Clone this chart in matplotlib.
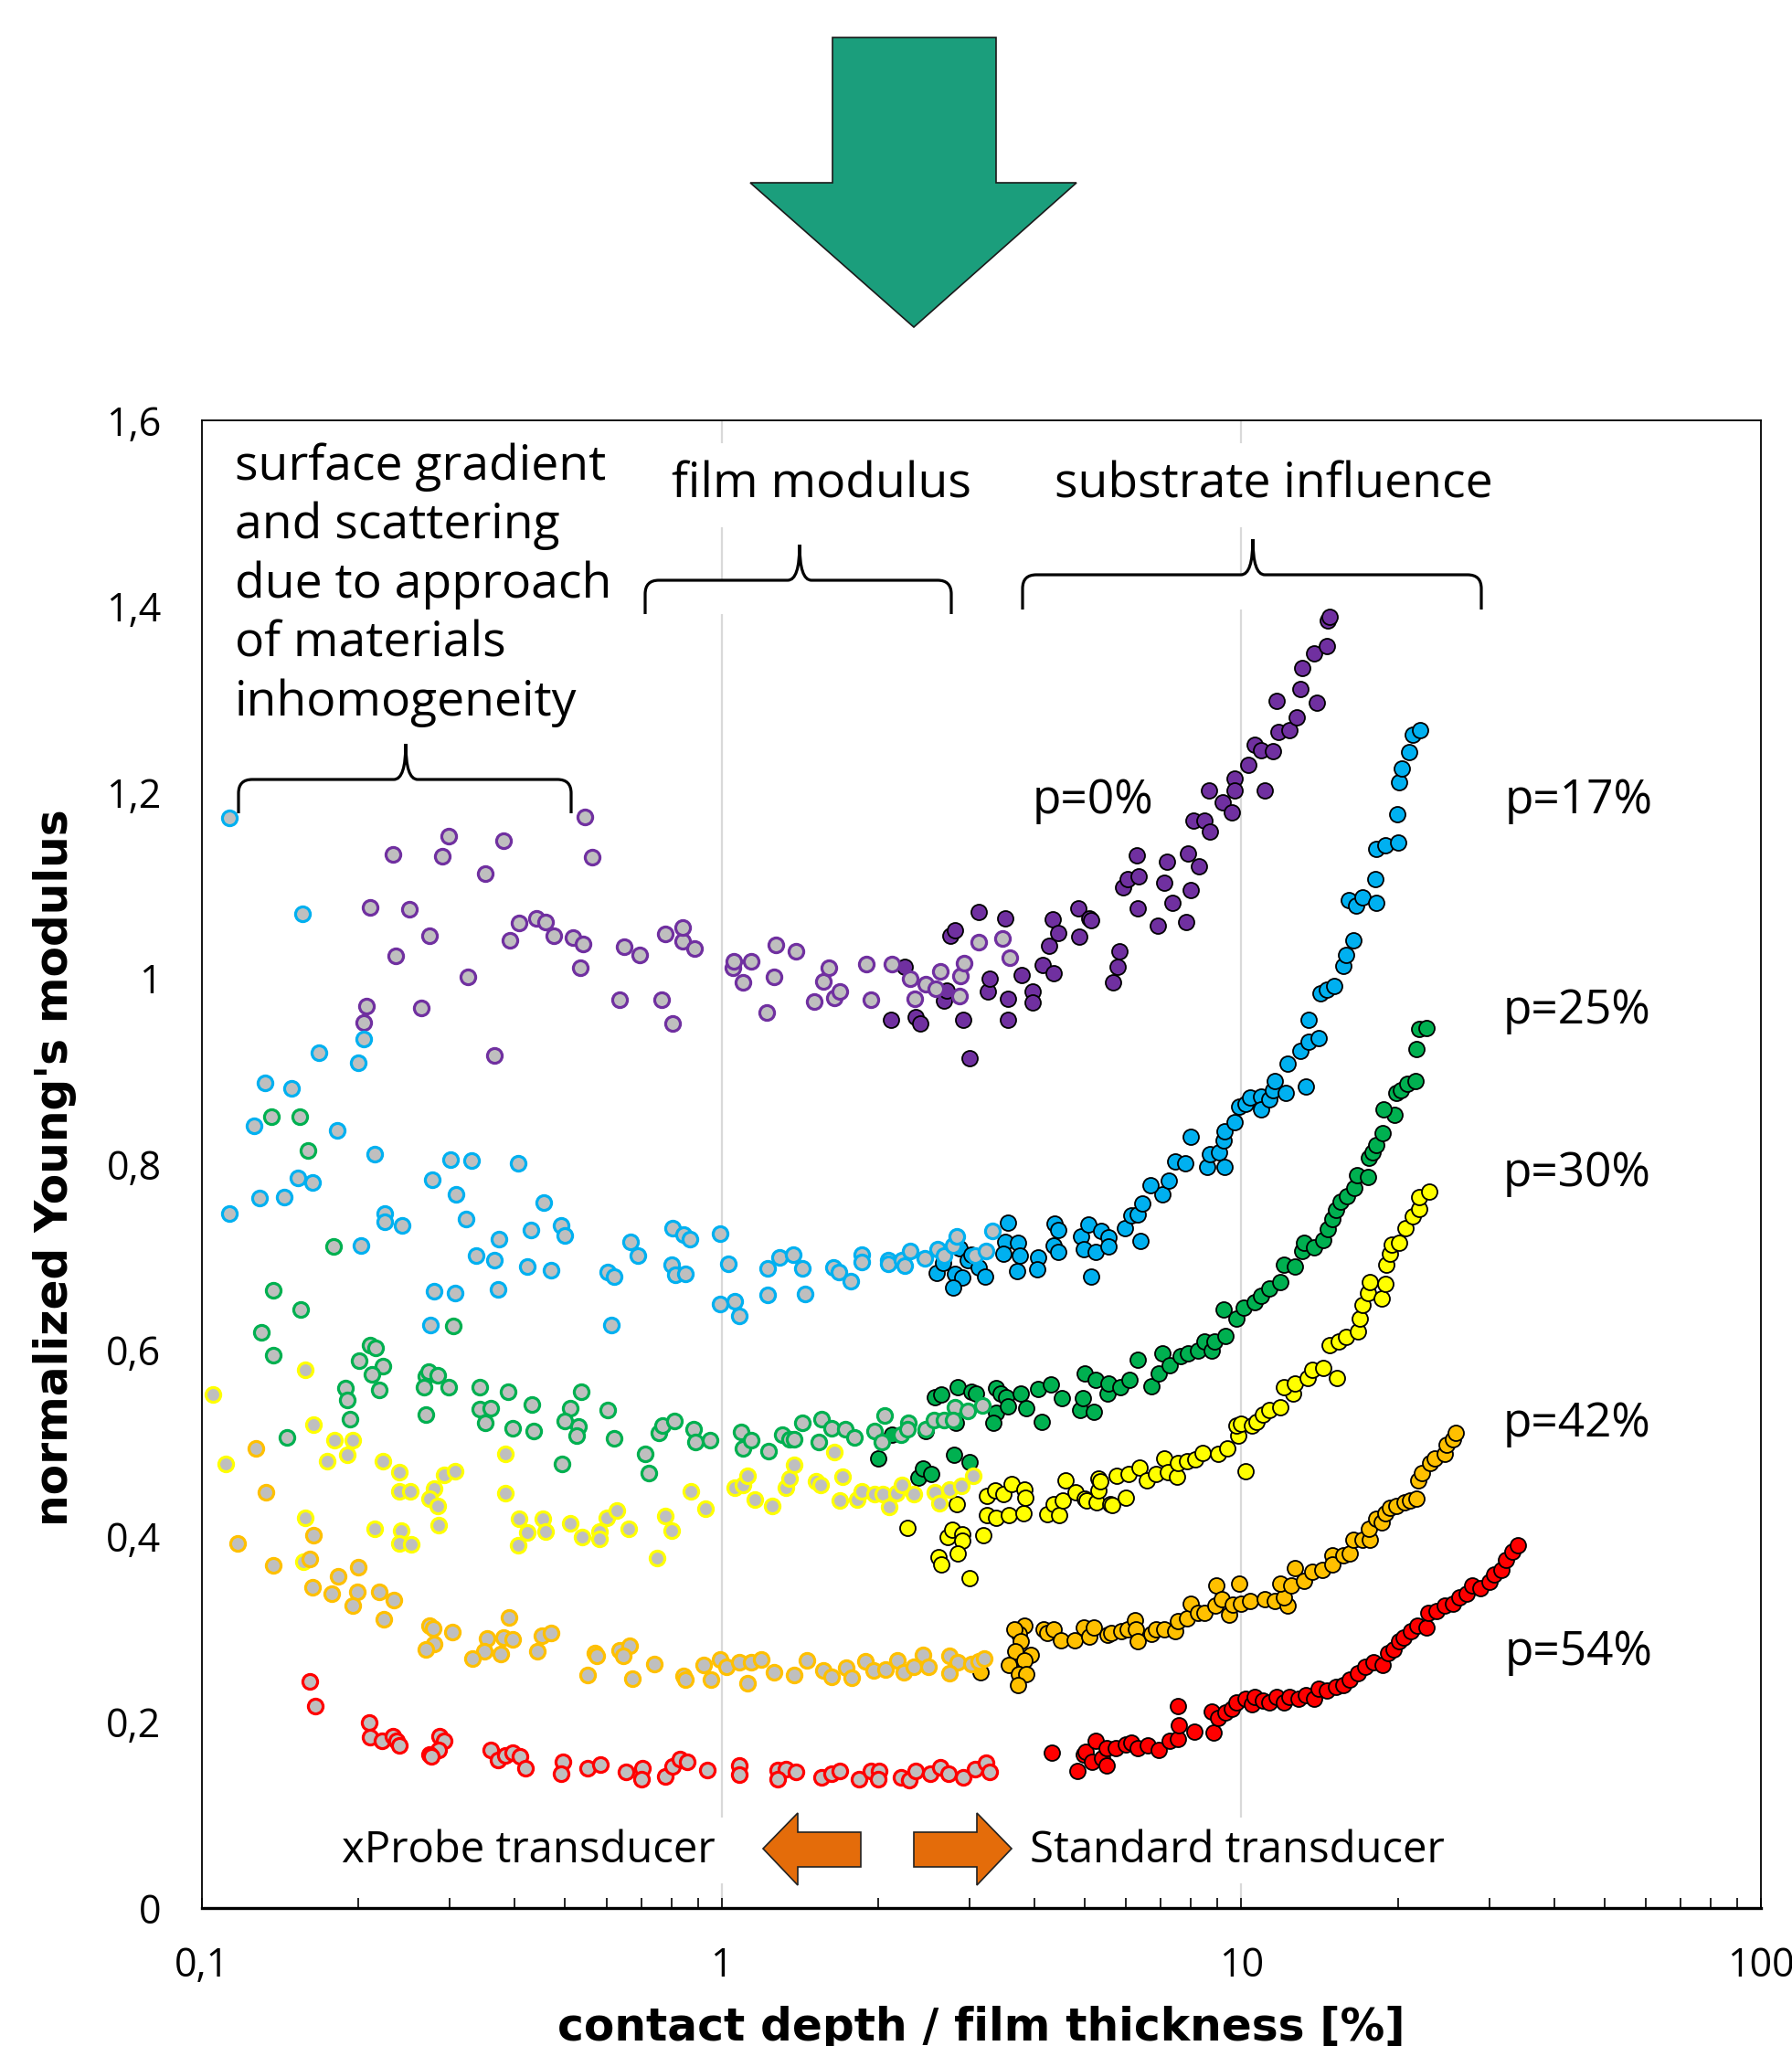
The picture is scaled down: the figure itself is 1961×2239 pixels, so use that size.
import numpy as np
import matplotlib
matplotlib.use('Agg')
import matplotlib.pyplot as plt
from matplotlib.patches import Polygon, PathPatch, Rectangle
from matplotlib.path import Path
from matplotlib.ticker import FixedLocator, FixedFormatter, LogLocator, NullFormatter

plt.rcParams['font.family'] = ['Open Sans', 'DejaVu Sans']

#-------------------------------------------------------------------------------
# data: (contact depth / film thickness [%], normalized Young's modulus)
# xProbe transducer = hollow grey markers, Standard transducer = filled markers
p0_xprobe = [(0.205,0.952),(0.207,0.970),(0.211,1.076),(0.233,1.133),(0.236,1.024),(0.251,1.074),
    (0.264,0.968),(0.274,1.046),(0.290,1.131),(0.299,1.153),(0.325,1.001),(0.351,1.113),(0.366,0.917),
    (0.380,1.148),(0.391,1.041),(0.408,1.059),(0.440,1.064),(0.459,1.060),(0.475,1.046),(0.517,1.044),
    (0.535,1.011),(0.541,1.037),(0.546,1.173),(0.564,1.130),(0.635,0.977),(0.649,1.034),(0.695,1.025),
    (0.767,0.977),(0.778,1.048),(0.805,0.951),(0.84,1.040),(0.843,1.055),(0.887,1.032),(1.05,1.011),
    (1.055,1.018),(1.10,0.996),(1.14,1.018),(1.22,0.963),(1.26,1.001),(1.27,1.036),(1.39,1.029),
    (1.51,0.975),(1.57,0.997),(1.61,1.011),(1.65,0.979),(1.69,0.986),(1.90,1.015),(1.94,0.977),
    (2.13,1.015),(2.31,1.000),(2.35,0.978),(2.47,0.994),(2.58,0.989),(2.64,1.007),(2.87,0.981),
    (2.88,1.002),(2.93,1.016),(3.12,1.039),(3.47,1.043),(3.59,1.022)]
p0_std = [(2.12,0.955),(2.25,1.012),(2.36,0.958),(2.41,0.951),(2.68,0.976),(2.71,0.987),(2.75,1.046),
    (2.81,1.052),(2.92,0.955),(3.00,0.914),(3.13,1.071),(3.25,0.986),(3.28,1.000),(3.51,1.064),
    (3.55,0.978),(3.56,0.955),(3.78,1.003),(3.97,0.986),(3.97,0.974),(4.15,1.014),(4.26,1.035),
    (4.34,1.063),(4.36,1.005),(4.45,1.049),(4.86,1.075),(4.87,1.045),(5.09,1.064),(5.15,1.062),
    (5.66,0.996),(5.78,1.012),(5.83,1.029),(5.93,1.098),(6.04,1.107),(6.29,1.132),(6.31,1.075),
    (6.34,1.110),(6.9,1.057),(7.1,1.103),(7.18,1.125),(7.36,1.081),(7.84,1.060),(7.9,1.134),
    (8.0,1.095),(8.1,1.170),(8.3,1.120),(8.5,1.170),(8.67,1.202),(8.7,1.158),(9.2,1.189),(9.6,1.178),
    (9.7,1.215),(9.7,1.202),(10.3,1.229),(10.6,1.251),(10.9,1.245),(11.1,1.202),(11.5,1.244),
    (11.7,1.298),(11.8,1.265),(12.4,1.267),(12.8,1.281),(13.0,1.311),(13.1,1.334),(13.8,1.349),
    (14.0,1.296),(14.6,1.357),(14.7,1.385),(14.8,1.389)]

p17_xprobe = [(0.113,1.172),(0.156,1.069),(0.205,0.935),(0.168,0.920),(0.200,0.909),(0.132,0.887),
    (0.149,0.882),(0.126,0.841),(0.182,0.836),(0.215,0.811),(0.301,0.805),(0.330,0.804),(0.406,0.801),
    (0.277,0.783),(0.308,0.768),(0.153,0.785),(0.163,0.780),(0.129,0.764),(0.144,0.765),(0.113,0.747),
    (0.454,0.759),(0.225,0.747),(0.225,0.738),(0.243,0.734),(0.322,0.741),(0.373,0.719),(0.430,0.729),
    (0.492,0.734),(0.499,0.723),(0.202,0.713),(0.337,0.702),(0.366,0.697),(0.423,0.690),(0.469,0.686),
    (0.668,0.716),(0.690,0.702),(0.603,0.684),(0.62,0.679),(0.805,0.731),(0.80,0.692),(0.280,0.663),
    (0.307,0.661),(0.371,0.665),(0.275,0.627),(0.614,0.627),(0.845,0.724),(0.869,0.719),(0.995,0.725),
    (0.815,0.681),(0.85,0.682),(1.03,0.693),(0.995,0.650),(1.06,0.653),(1.08,0.637),(1.225,0.688),
    (1.29,0.700),(1.375,0.703),(1.43,0.688),(1.225,0.659),(1.45,0.660),(1.64,0.689),(1.68,0.684),
    (1.77,0.674),(1.86,0.703),(1.86,0.695),(2.09,0.697),(2.09,0.693),(2.22,0.697),(2.25,0.691),
    (2.31,0.707),(2.46,0.699),(2.6,0.709),(2.68,0.702),(2.79,0.713),(2.84,0.722),(3.07,0.702),
    (3.23,0.707),(3.32,0.728)]
p17_std = [(2.59,0.683),(2.67,0.694),(2.81,0.682),(2.90,0.678),(2.79,0.667),(2.87,0.710),(2.97,0.697),
    (3.13,0.689),(3.21,0.679),(3.02,0.703),(3.55,0.737),(3.51,0.716),(3.49,0.704),(3.72,0.715),
    (3.75,0.702),(3.70,0.685),(4.07,0.700),(4.05,0.687),(4.37,0.736),(4.44,0.729),(4.36,0.713),
    (4.44,0.706),(4.92,0.722),(5.07,0.735),(4.98,0.709),(5.25,0.706),(5.37,0.728),(5.56,0.721),
    (5.56,0.712),(5.14,0.679),(5.97,0.731),(6.15,0.745),(6.41,0.717),(6.32,0.746),(6.46,0.758),
    (7.05,0.768),(6.68,0.777),(7.25,0.782),(7.45,0.803),(7.8,0.801),(8.0,0.829),(8.6,0.797),
    (8.7,0.811),(9.06,0.813),(9.3,0.797),(9.25,0.826),(9.3,0.835),(9.7,0.845),(9.9,0.862),
    (10.2,0.865),(10.4,0.872),(10.9,0.873),(10.9,0.859),(11.3,0.870),(11.5,0.880),(11.6,0.889),
    (12.2,0.877),(12.3,0.908),(13.3,0.884),(13.0,0.922),(13.5,0.932),(14.1,0.936),(13.5,0.955),
    (14.2,0.984),(14.6,0.988),(15.1,0.992),(15.7,1.013),(15.9,1.025),(16.4,1.041),(16.1,1.084),
    (16.6,1.078),(17.1,1.087),(18.2,1.081),(18.1,1.107),(18.2,1.139),(18.9,1.143),(20.0,1.146),
    (19.96,1.176),(20.1,1.211),(20.4,1.226),(21.0,1.243),(21.4,1.262),(22.1,1.267)]

p25_xprobe = [(0.136,0.851),(0.154,0.851),(0.160,0.815),(0.179,0.712),(0.137,0.664),(0.155,0.644),
    (0.130,0.619),(0.137,0.595),(0.211,0.605),(0.216,0.602),(0.201,0.589),(0.223,0.583),(0.212,0.574),
    (0.219,0.557),(0.189,0.559),(0.19,0.546),(0.193,0.526),(0.146,0.506),(0.304,0.626),(0.270,0.572),
    (0.273,0.577),(0.284,0.573),(0.268,0.560),(0.298,0.560),(0.270,0.531),(0.343,0.560),(0.343,0.537),
    (0.360,0.538),(0.351,0.522),(0.389,0.555),(0.396,0.516),(0.431,0.542),(0.435,0.513),(0.537,0.555),
    (0.512,0.538),(0.500,0.524),(0.531,0.518),(0.526,0.508),(0.493,0.478),(0.604,0.536),(0.622,0.505),
    (0.714,0.488),(0.725,0.468),(0.756,0.511),(0.77,0.519),(0.811,0.524),(0.885,0.515),(0.89,0.501),
    (0.95,0.503),(1.09,0.512),(1.10,0.494),(1.14,0.503),(1.23,0.491),(1.31,0.509),(1.35,0.504),
    (1.38,0.504),(1.43,0.522),(1.56,0.526),(1.63,0.516),(1.54,0.501),(1.73,0.515),(1.80,0.506),
    (1.97,0.513),(2.06,0.530),(2.03,0.501),(2.21,0.509),(2.29,0.522),(2.28,0.515),(2.47,0.515),
    (2.56,0.525),(2.68,0.525),(2.81,0.539),(2.79,0.525),(2.97,0.535),(3.18,0.541)]
p25_std = [(2.0,0.484),(2.13,0.509),(2.39,0.463),(2.44,0.473),(2.53,0.467),(2.57,0.549),(2.65,0.552),
    (2.47,0.513),(2.80,0.487),(3.0,0.480),(2.85,0.560),(3.03,0.555),(3.09,0.553),(2.82,0.522),
    (3.37,0.559),(3.44,0.553),(3.38,0.533),(3.33,0.522),(3.53,0.549),(3.56,0.540),(3.77,0.553),
    (3.86,0.538),(4.13,0.523),(4.06,0.558),(4.30,0.563),(4.52,0.548),(4.9,0.536),(4.95,0.548),
    (5.0,0.575),(5.21,0.534),(5.24,0.568),(5.53,0.553),(5.55,0.564),(5.86,0.560),(6.09,0.568),
    (6.31,0.590),(6.72,0.561),(6.95,0.575),(7.05,0.597),(7.28,0.584),(7.63,0.594),(7.89,0.597),
    (8.24,0.600),(8.5,0.609),(8.76,0.600),(8.89,0.609),(9.25,0.644),(9.32,0.615),(9.77,0.634),
    (10.1,0.646),(10.6,0.652),(10.9,0.658),(11.3,0.666),(11.9,0.673),(12.1,0.692),(12.7,0.690),
    (13.1,0.707),(13.2,0.715),(13.8,0.711),(14.4,0.718),(14.7,0.730),(15.0,0.741),(15.2,0.751),
    (15.5,0.760),(16.0,0.766),(16.5,0.774),(16.7,0.788),(17.5,0.786),(17.6,0.807),(17.9,0.813),
    (18.2,0.821),(18.7,0.833),(19.7,0.853),(18.8,0.859),(19.9,0.877),(20.3,0.880),(20.9,0.886),
    (21.6,0.889),(21.7,0.924),(22.0,0.945),(22.7,0.946)]

p30_xprobe = [(0.158,0.579),(0.105,0.552),(0.111,0.478),(0.164,0.520),(0.180,0.503),(0.195,0.503),
    (0.190,0.487),(0.174,0.481),(0.223,0.481),(0.240,0.469),(0.240,0.448),(0.252,0.448),(0.280,0.451),
    (0.274,0.440),(0.284,0.432),(0.293,0.466),(0.307,0.470),(0.285,0.412),(0.158,0.420),(0.215,0.408),
    (0.242,0.406),(0.24,0.392),(0.253,0.391),(0.157,0.372),(0.384,0.488),(0.384,0.446),(0.408,0.419),
    (0.423,0.404),(0.406,0.390),(0.452,0.419),(0.459,0.405),(0.512,0.414),(0.540,0.399),(0.582,0.405),
    (0.583,0.397),(0.602,0.420),(0.628,0.428),(0.663,0.408),(0.752,0.376),(0.778,0.422),(0.80,0.406),
    (0.873,0.448),(0.93,0.429),(1.06,0.452),(1.10,0.455),(1.12,0.465),(1.16,0.439),(1.25,0.432),
    (1.33,0.452),(1.35,0.462),(1.38,0.477),(1.52,0.459),(1.55,0.455),(1.65,0.490),(1.71,0.464),
    (1.69,0.438),(1.82,0.439),(1.86,0.448),(1.97,0.445),(2.04,0.445),(2.10,0.431),(2.17,0.446),
    (2.22,0.455),(2.34,0.445),(2.57,0.447),(2.63,0.435),(2.74,0.450),(2.89,0.454),(3.05,0.465)]
p30_std = [(2.28,0.409),(2.83,0.434),(2.72,0.399),(2.78,0.407),(2.90,0.402),(2.91,0.395),(2.61,0.377),
    (2.65,0.370),(2.85,0.381),(3.0,0.355),(3.19,0.401),(3.24,0.443),(3.36,0.449),(3.49,0.445),
    (3.62,0.456),(3.24,0.423),(3.37,0.420),(3.57,0.423),(3.81,0.425),(3.83,0.450),(3.84,0.441),
    (4.23,0.424),(4.36,0.434),(4.46,0.423),(4.54,0.438),(4.59,0.460),(4.79,0.447),(5.0,0.440),
    (5.03,0.438),(5.27,0.436),(5.3,0.449),(5.32,0.462),(5.36,0.459),(5.59,0.434),(5.64,0.433),
    (5.75,0.465),(6.0,0.441),(6.06,0.467),(6.36,0.474),(6.58,0.460),(6.84,0.467),(7.11,0.484),
    (7.22,0.469),(7.53,0.464),(7.56,0.479),(7.86,0.481),(8.17,0.483),(8.43,0.489),(9.04,0.488),
    (9.4,0.494),(9.85,0.508),(9.77,0.519),(10.0,0.521),(10.2,0.470),(10.5,0.519),(10.7,0.523),
    (11.0,0.531),(11.3,0.536),(11.9,0.539),(12.6,0.553),(12.1,0.560),(12.7,0.564),(13.4,0.570),
    (13.7,0.579),(14.4,0.581),(15.3,0.570),(14.8,0.605),(15.4,0.609),(15.9,0.614),(16.8,0.620),
    (16.9,0.634),(17.1,0.649),(17.5,0.661),(17.7,0.673),(18.6,0.656),(18.9,0.671),(19.0,0.692),
    (19.3,0.704),(19.5,0.714),(20.1,0.715),(20.7,0.731),(21.4,0.744),(22.0,0.752),(22.0,0.765),
    (23.0,0.771)]

p42_xprobe = [(0.127,0.494),(0.133,0.447),(0.117,0.392),(0.137,0.369),(0.161,0.375),(0.164,0.401),
    (0.183,0.357),(0.200,0.367),(0.163,0.345),(0.178,0.338),(0.199,0.340),(0.195,0.325),(0.219,0.340),
    (0.234,0.331),(0.224,0.311),(0.274,0.304),(0.278,0.301),(0.280,0.284),(0.27,0.278),(0.303,0.297),
    (0.354,0.290),(0.35,0.276),(0.331,0.268),(0.390,0.313),(0.381,0.291),(0.396,0.289),(0.376,0.273),
    (0.451,0.293),(0.469,0.296),(0.442,0.276),(0.570,0.274),(0.575,0.271),(0.553,0.251),(0.635,0.277),
    (0.664,0.282),(0.647,0.271),(0.673,0.247),(0.741,0.262),(0.845,0.250),(0.85,0.246),(0.922,0.261),
    (0.955,0.246),(0.995,0.267),(1.02,0.259),(1.08,0.264),(1.14,0.264),(1.19,0.267),(1.12,0.242),
    (1.26,0.254),(1.38,0.251),(1.46,0.266),(1.57,0.256),(1.63,0.249),(1.74,0.258),(1.78,0.248),
    (1.89,0.265),(1.96,0.256),(2.07,0.257),(2.18,0.266),(2.24,0.254),(2.34,0.259),(2.44,0.272),
    (2.50,0.259),(2.74,0.271),(2.85,0.264),(2.74,0.253),(3.03,0.262),(3.13,0.265),(3.20,0.268)]
p42_std = [(3.15,0.254),(3.83,0.304),(3.74,0.295),(3.66,0.300),(3.77,0.287),(3.93,0.272),(3.67,0.276),
    (3.83,0.266),(3.57,0.261),(3.74,0.252),(3.86,0.252),(3.72,0.240),(4.17,0.300),(4.23,0.296),
    (4.36,0.300),(4.5,0.288),(4.77,0.288),(4.98,0.302),(5.1,0.292),(5.21,0.302),(5.53,0.294),
    (5.63,0.296),(5.88,0.298),(6.04,0.300),(6.24,0.310),(6.26,0.300),(6.32,0.287),(6.72,0.295),
    (6.86,0.300),(7.11,0.300),(7.45,0.298),(7.56,0.309),(7.86,0.312),(7.98,0.327),(8.24,0.317),
    (8.5,0.317),(8.9,0.325),(8.97,0.347),(9.18,0.332),(9.46,0.315),(9.64,0.326),(9.92,0.349),
    (10.0,0.327),(10.4,0.330),(11.1,0.332),(11.6,0.330),(12.3,0.325),(12.1,0.334),(11.9,0.349),
    (12.5,0.347),(12.7,0.366),(13.2,0.352),(13.7,0.362),(14.3,0.364),(15.0,0.379),(15.0,0.370),
    (15.7,0.379),(16.2,0.381),(16.4,0.396),(17.1,0.396),(17.7,0.396),(17.6,0.408),(18.2,0.419),
    (18.6,0.415),(18.9,0.425),(19.3,0.430),(19.9,0.432),(20.6,0.436),(21.1,0.438),(21.7,0.440),
    (21.9,0.460),(22.3,0.468),(23.1,0.479),(23.6,0.484),(24.6,0.488),(24.8,0.498),(25.5,0.504),
    (25.9,0.511)]

p54_xprobe = [(0.161,0.244),(0.165,0.217),(0.210,0.200),(0.211,0.184),(0.222,0.180),(0.233,0.185),
    (0.237,0.180),(0.240,0.175),(0.286,0.185),(0.293,0.180),(0.285,0.170),(0.274,0.165),(0.276,0.163),
    (0.360,0.170),(0.371,0.159),(0.384,0.164),(0.396,0.167),(0.409,0.163),(0.420,0.150),(0.495,0.157),
    (0.492,0.144),(0.553,0.150),(0.585,0.154),(0.654,0.146),(0.703,0.150),(0.70,0.139),(0.780,0.142),
    (0.805,0.152),(0.83,0.160),(0.86,0.157),(0.94,0.148),(1.08,0.153),(1.08,0.143),(1.28,0.148),
    (1.33,0.149),(1.39,0.146),(1.28,0.139),(1.56,0.141),(1.63,0.144),(1.69,0.147),(1.84,0.139),
    (1.94,0.147),(2.01,0.147),(2.0,0.139),(2.21,0.141),(2.30,0.138),(2.36,0.147),(2.52,0.144),
    (2.64,0.151),(2.73,0.144),(2.92,0.141),(3.08,0.149),(3.23,0.156),(3.28,0.146)]
p54_std = [(4.32,0.167),(4.84,0.147),(4.98,0.165),(5.01,0.168),(5.16,0.157),(5.24,0.180),(5.4,0.161),
    (5.5,0.153),(5.51,0.172),(5.73,0.172),(6.0,0.176),(6.15,0.178),(6.32,0.172),(6.62,0.175),
    (6.95,0.170),(7.28,0.180),(7.56,0.182),(7.58,0.197),(7.56,0.217),(8.13,0.190),(8.77,0.211),
    (8.86,0.189),(9.04,0.204),(9.33,0.210),(9.6,0.214),(9.77,0.221),(10.2,0.225),(10.5,0.219),
    (10.6,0.227),(11.0,0.223),(11.3,0.221),(11.7,0.227),(12.1,0.221),(12.4,0.227),(12.9,0.225),
    (13.3,0.229),(13.8,0.225),(14.1,0.236),(14.6,0.234),(15.2,0.238),(15.7,0.240),(16.2,0.246),
    (16.8,0.253),(17.3,0.259),(18.0,0.264),(18.7,0.261),(19.2,0.274),(19.6,0.278),(20.1,0.287),
    (20.5,0.291),(21.2,0.298),(21.8,0.304),(22.7,0.302),(22.9,0.317),(23.8,0.319),(24.6,0.325),
    (25.5,0.327),(26.3,0.334),(27.2,0.338),(27.8,0.347),(28.9,0.344),(30.0,0.351),(30.7,0.359),
    (31.7,0.364),(32.3,0.374),(33.2,0.383),(34.1,0.390)]

series_xprobe = [p0_xprobe, p17_xprobe, p25_xprobe, p30_xprobe, p42_xprobe, p54_xprobe]
series_std = [p0_std, p17_std, p25_std, p30_std, p42_std, p54_std]
colors = ['#7030A0', '#00B0F0', '#00B050', '#FFFF00', '#FFC000', '#FF0000']
p_labels = ['p=0%', 'p=17%', 'p=25%', 'p=30%', 'p=42%', 'p=54%']

x_ticks = [0.1, 1, 10, 100]
x_ticklabels = ['0,1', '1', '10', '100']
y_ticks = [0, 0.2, 0.4, 0.6, 0.8, 1.0, 1.2, 1.4, 1.6]
y_ticklabels = ['0', '0,2', '0,4', '0,6', '0,8', '1', '1,2', '1,4', '1,6']

#-------------------------------------------------------------------------------
W, H = 1961, 2239
def fpt(x, y):
    # pixel position (from top left) -> figure fraction
    return (x / W, 1 - y / H)

fig = plt.figure(figsize=(W / 100, H / 100), dpi=100)
x0, y0 = fpt(221, 2088)
ax = fig.add_axes([x0, y0, (1927 - 221) / W, (2088 - 460) / H])

ax.set_xscale('log')
ax.set_xlim(0.1, 100)
ax.set_ylim(0, 1.6)

ax.axvline(1, color='#D9D9D9', lw=1.6, zorder=0.5)
ax.axvline(10, color='#D9D9D9', lw=1.6, zorder=0.5)

for pts, col in zip(series_std, colors):
    a = np.array(pts)
    ax.scatter(a[:, 0], a[:, 1], s=150, facecolor=col, edgecolor='black', linewidth=1.3, zorder=3)
for pts, col in zip(series_xprobe, colors):
    a = np.array(pts)
    ax.scatter(a[:, 0], a[:, 1], s=135, facecolor='#BFBFBF', edgecolor=col, linewidth=2.3, zorder=4)

ax.xaxis.set_major_locator(FixedLocator(x_ticks))
ax.xaxis.set_major_formatter(FixedFormatter(x_ticklabels))
ax.xaxis.set_minor_locator(LogLocator(base=10, subs=np.arange(2, 10)))
ax.xaxis.set_minor_formatter(NullFormatter())
ax.yaxis.set_major_locator(FixedLocator(y_ticks))
ax.yaxis.set_major_formatter(FixedFormatter(y_ticklabels))
ax.tick_params(axis='x', which='both', direction='in', length=8, width=1.2, pad=30, labelsize=31)
ax.tick_params(axis='y', which='both', length=0, pad=32, labelsize=31)

for side in ['left', 'right', 'top']:
    ax.spines[side].set_linewidth(1.3)
ax.spines['bottom'].set_linewidth(2.4)

ax.set_xlabel('contact depth / film thickness [%]', family='DejaVu Sans', fontweight='bold',
              fontsize=35, va='center')
ax.set_ylabel("normalized Young's modulus", family='DejaVu Sans', fontweight='bold', fontsize=35, va='center')
ax.xaxis.set_label_coords(0.5, -0.0805)
ax.yaxis.set_label_coords(-0.0945, 0.4975)

#-------------------------------------------------------------------------------
# braces and annotations (pixel positions of the layout)
def brace(xa, xb, xm, yl, ye, yt, fill=False):
    r, rt = 15, 13
    v = [(xa, ye), (xa, yl + r), (xa, yl), (xa + r, yl), (xm - rt, yl), (xm, yl), (xm, yt),
         (xm, yl), (xm + rt, yl), (xb - r, yl), (xb, yl), (xb, yl + r), (xb, ye)]
    c = [Path.MOVETO, Path.LINETO, Path.CURVE3, Path.CURVE3, Path.LINETO, Path.CURVE3, Path.CURVE3,
         Path.CURVE3, Path.CURVE3, Path.LINETO, Path.CURVE3, Path.CURVE3, Path.LINETO]
    if fill:
        bx, by = fpt(xa, ye)
        ax.add_patch(Rectangle((bx, by), (xb - xa) / W, (ye - yl) / H, transform=fig.transFigure,
                               facecolor='white', edgecolor='none', zorder=1))
    ax.add_patch(PathPatch(Path([fpt(*p) for p in v], c), transform=fig.transFigure,
                           facecolor='none', edgecolor='black', lw=2.3, zorder=5, clip_on=False))

brace(261, 625, 444, 853, 890, 814)
brace(706, 1041, 875, 635, 672, 596, fill=True)
brace(1119, 1621, 1371, 629, 667, 590, fill=True)

def label(x, y, s, ha='left', bg=None, size=38.5, **kw):
    bbox = None if bg is None else dict(facecolor='white', edgecolor='none', pad=bg)
    ax.text(*fpt(x, y), s, transform=fig.transFigure, ha=ha, va='center', fontsize=size,
            bbox=bbox, zorder=6, **kw)

label(257, 640, 'surface gradient\nand scattering\ndue to approach\nof materials\ninhomogeneity',
      linespacing=1.27)
label(899, 531, 'film modulus', ha='center', bg=14)
label(1394, 531, 'substrate influence', ha='center', bg=14)
label(783, 2025, 'xProbe transducer', ha='right', bg=9, size=34)
label(1127, 2025, 'Standard transducer', bg=9, size=34)

p_pos = [(1130, 876), (1647, 876), (1645, 1107), (1645, 1285), (1645, 1558), (1647, 1808)]
for (px, py), s in zip(p_pos, p_labels):
    label(px, py, s, size=37)

# orange transducer arrows
left_arrow = [(835, 2023), (873, 1984), (873, 2005), (942, 2005), (942, 2043), (873, 2043), (873, 2063)]
right_arrow = [(1000, 2005), (1069, 2005), (1069, 1984), (1107, 2023), (1069, 2063), (1069, 2043), (1000, 2043)]
for arr in [left_arrow, right_arrow]:
    ax.add_patch(Polygon([fpt(*p) for p in arr], closed=True, transform=fig.transFigure,
                         facecolor='#E46C0A', edgecolor='#222222', lw=1.2, zorder=5))

# big green arrow above the chart
green_arrow = [(911, 41), (1090, 41), (1090, 200), (1178, 200), (1000, 358), (821, 200), (911, 200)]
fig.patches.append(Polygon([fpt(*p) for p in green_arrow], closed=True, transform=fig.transFigure,
                           facecolor='#1B9E7C', edgecolor='#1a1a1a', lw=1.2))

fig.savefig('out.png', dpi=100)
